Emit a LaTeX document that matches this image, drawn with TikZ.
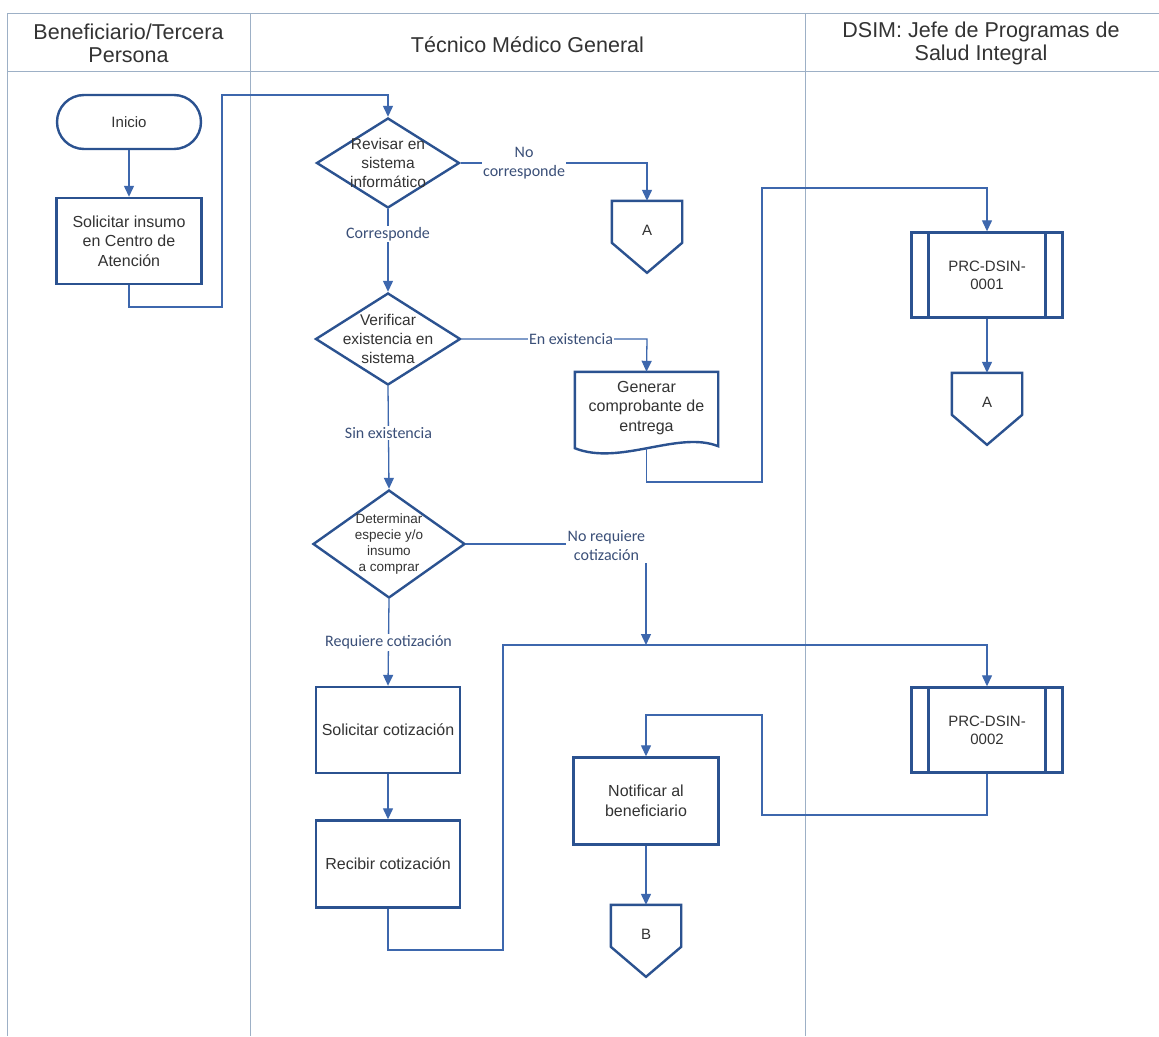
\documentclass[tikz,border=0pt]{standalone}
\usepackage{fontspec}
\setmainfont{Liberation Sans}
\newfontfamily\lblfont{Carlito}
\usetikzlibrary{arrows.meta,calc,shapes.geometric}
\definecolor{shapeblue}{HTML}{2B5290}
\definecolor{flowblue}{HTML}{3D67AD}
\definecolor{lanegray}{HTML}{9DB0C6}
\definecolor{txtgray}{HTML}{333333}
\definecolor{lbltxt}{HTML}{3A4F78}

% outline of an off-page connector: flat top, pointed bottom
\newcommand\offpageoutline[1]{%
  \draw[shapeline] (#1.north west) -- (#1.north east) -- ($(#1.north east)+(0,42)$)
    -- ($(#1.north)+(0,72)$) -- ($(#1.north west)+(0,42)$) -- cycle;}

\begin{document}
\begin{tikzpicture}[x=1pt,y=-1pt,
  every node/.style={font=\fontsize{16}{19.5}\selectfont, text=txtgray, align=center, inner sep=0pt},
  shapeline/.style={draw=shapeblue, line width=2.4pt, line join=miter},
  box/.style={shapeline, minimum width=145pt, minimum height=86pt},
  terminal/.style={box, rounded corners=27pt, minimum width=144pt, minimum height=54pt, font=\fontsize{15}{18}\selectfont},
  decision/.style={shapeline, shape=diamond, minimum width=145pt, minimum height=90pt},
  dtext/.style={font=\fontsize{15.5}{19}\selectfont},
  prc/.style={box, minimum width=151pt, minimum height=85pt, font=\fontsize{15}{18}\selectfont,
    path picture={\draw[shapeblue, line width=2.4pt]
      ([xshift=17pt]path picture bounding box.north west) -- ([xshift=17pt]path picture bounding box.south west)
      ([xshift=-17pt]path picture bounding box.north east) -- ([xshift=-17pt]path picture bounding box.south east);}},
  offpage/.style={minimum width=70pt, minimum height=58pt, font=\fontsize{15}{18}\selectfont},
  flow/.style={draw=flowblue, line width=1.3pt, -{Triangle[width=10pt,length=11pt]}},
  lbl/.style={font=\lblfont\fontsize{16}{19}\selectfont, text=lbltxt, fill=white, inner sep=1.5pt},
  lane/.style={draw=lanegray, line width=1pt},
  head/.style={font=\fontsize{21.5}{23}\selectfont, text=txtgray}
]
\useasboundingbox[fill=white] (0,0) rectangle (1159,1036);

% swimlane frame
\draw[lane] (7,13) -- (1159,13);
\draw[lane] (7,71) -- (1159,71);
\draw[lane] (7,13) -- (7,1036);
\draw[lane] (250,13) -- (250,1036);
\draw[lane] (805,13) -- (805,1036);

\node[head] (h1) at (128.5,43) {Beneficiario/Tercera\\Persona};
\node[head] (h2) at (527.5,45) {Técnico Médico General};
\node[head] (h3) at (981,43) {DSIM: Jefe de Programas de\\Salud Integral};

% lane 1
\node[terminal] (ini) at (129,122) {Inicio};
\node[box] (sol) at (129,241) {Solicitar insumo\\en Centro de\\Atención};

% lane 2
\node[decision, minimum width=143pt, label={[dtext]center:Revisar en\\sistema\\informático}] (d1) at (388,163) {};
\node[offpage] (offA1) at (647,230) {A};
\offpageoutline{offA1}
\node[decision, minimum height=92pt, label={[dtext]center:Verificar\\existencia en\\sistema}] (d2) at (388,339) {};
\node[minimum width=143pt, minimum height=72pt] (doc) at (646.5,408) {Generar\\comprobante de\\entrega};
\draw[shapeline] (doc.north west) -- (doc.north east) -- ($(doc.south east)+(0,2)$)
  .. controls ($(doc.south east)+(-40,-14)$) and ($(doc.south west)+(45,22)$) .. ($(doc.south west)+(0,4)$) -- cycle;
\node[decision, minimum width=152pt, minimum height=108pt,
  label={[font=\fontsize{13.5}{16}\selectfont]center:Determinar\\especie y/o\\insumo\\a comprar}] (d3) at (389,544) {};
\node[box, minimum width=144pt] (sc) at (388,730) {Solicitar cotización};
\node[box, minimum width=144pt, minimum height=87pt] (rc) at (388,864) {Recibir cotización};
\node[box, minimum height=87pt] (notif) at (646,801) {Notificar al\\beneficiario};
\node[offpage] (offB) at (646,934) {B};
\offpageoutline{offB}
\coordinate (join) at (646,645);

% lane 3
\node[prc] (prc1) at (987,275) {PRC-DSIN-\\0001};
\node[offpage] (offA2) at (987,402) {A};
\offpageoutline{offA2}
\node[prc] (prc2) at (987,730) {PRC-DSIN-\\0002};

% connectors
\draw[flow] (ini.south) -- (sol.north);
\draw[flow] (sol.south) -- (129,307) -- (222,307) -- (222,95) -- (388,95) -- (d1.north);
\draw[flow] (d1.east) -- node[lbl, pos=0.34] {No\\corresponde} (647,163) -- (offA1.north);
\draw[flow] (d1.south) -- node[lbl, pos=0.3] {Corresponde} (d2.north);
\draw[flow] (d2.east) -- node[lbl, pos=0.59] {En existencia} (647,339) -- (doc.north);
\draw[flow] (d2.south) -- node[lbl, pos=0.46] {Sin existencia} (d3.north);
\draw[flow] ($(doc.south)+(0,4)$) -- (646.5,482) -- (762,482) -- (762,188) -- (987,188) -- (prc1.north);
\draw[flow] (prc1.south) -- (offA2.north);
\draw[flow] (d3.east) -- node[lbl, pos=0.78, yshift=-2pt] {No requiere\\cotización} (646,544) -- (join);
\draw[flow] (d3.south) -- node[lbl, pos=0.5] {Requiere cotización} (sc.north);
\draw[flow] (sc.south) -- (rc.north);
\draw[flow] (rc.south) -- (388,950) -- (503,950) -- (503,645) -- (join) -- (987,645) -- (prc2.north);
\draw[flow] (prc2.south) -- (987,815) -- (762,815) -- (762,715) -- (646,715) -- (notif.north);
\draw[flow] (notif.south) -- (offB.north);
\end{tikzpicture}
\end{document}
